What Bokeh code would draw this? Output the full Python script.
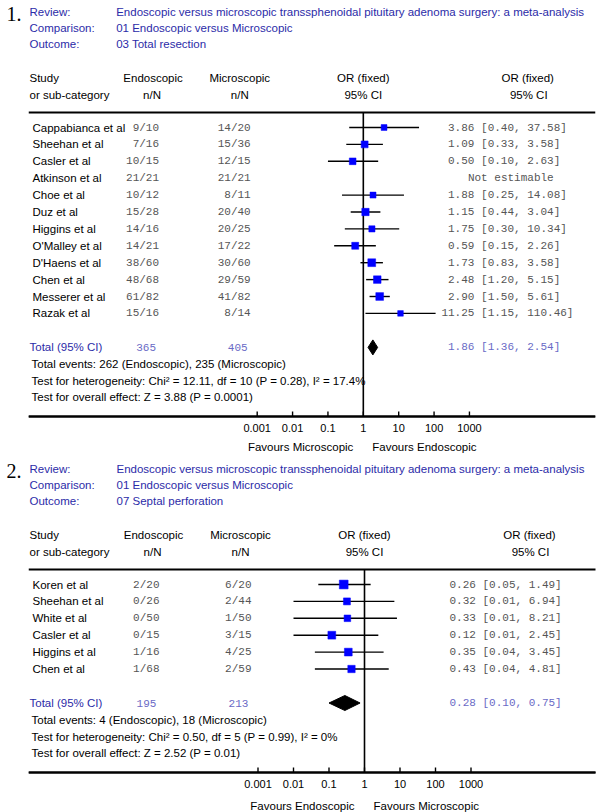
import math
from bokeh.plotting import figure
from bokeh.models import Range1d, LinearScale, ColumnDataSource
from bokeh.layouts import column
from bokeh.core.properties import value
from bokeh.embed import file_html
from bokeh.resources import INLINE

# ---------------- data ----------------
review = "Endoscopic versus microscopic transsphenoidal pituitary adenoma surgery: a meta-analysis"
comparison = "01 Endoscopic versus Microscopic"
outcome1 = "03 Total resection"
outcome2 = "07 Septal perforation"

studies1 = ["Cappabianca et al", "Sheehan et al", "Casler et al", "Atkinson et al", "Choe et al",
            "Duz  et al", "Higgins et al", "O'Malley et al", "D'Haens et al", "Chen et al",
            "Messerer et al", "Razak et al"]
endo_ev1 = [9, 7, 10, 21, 10, 15, 14, 14, 38, 48, 61, 15]
endo_n1 = [10, 16, 15, 21, 12, 28, 16, 21, 60, 68, 82, 16]
micro_ev1 = [14, 15, 12, 21, 8, 20, 20, 17, 30, 29, 41, 8]
micro_n1 = [20, 36, 15, 21, 11, 40, 25, 22, 60, 59, 82, 14]
or1 = [3.86, 1.09, 0.50, None, 1.88, 1.15, 1.75, 0.59, 1.73, 2.48, 2.90, 11.25]
lo1 = [0.40, 0.33, 0.10, None, 0.25, 0.44, 0.30, 0.15, 0.83, 1.20, 1.50, 1.15]
hi1 = [37.58, 3.58, 2.63, None, 14.08, 3.04, 10.34, 2.26, 3.58, 5.15, 5.61, 110.46]
weight1 = [1.6, 8.9, 6.8, 0, 2.4, 13.0, 3.3, 9.4, 18.8, 15.6, 17.9, 0.9]
total_n1 = [365, 405]
total_or1 = [1.86, 1.36, 2.54]
stats1 = ["Total events: 262 (Endoscopic), 235 (Microscopic)",
          "Test for heterogeneity: Chi\u00b2 = 12.11, df = 10 (P = 0.28), I\u00b2 = 17.4%",
          "Test for overall effect: Z = 3.88 (P = 0.0001)"]
favours1 = ["Favours Microscopic", "Favours Endoscopic"]

studies2 = ["Koren et al", "Sheehan et al", "White et al", "Casler et al", "Higgins et al", "Chen et al"]
endo_ev2 = [2, 0, 0, 0, 1, 1]
endo_n2 = [20, 26, 50, 15, 16, 68]
micro_ev2 = [6, 2, 1, 3, 4, 2]
micro_n2 = [20, 44, 50, 15, 25, 59]
or2 = [0.26, 0.32, 0.33, 0.12, 0.35, 0.43]
lo2 = [0.05, 0.01, 0.01, 0.01, 0.04, 0.04]
hi2 = [1.49, 6.94, 8.21, 2.45, 3.45, 4.81]
weight2 = [33.9, 9.3, 6.3, 18.8, 18.4, 13.3]
total_n2 = [195, 213]
total_or2 = [0.28, 0.10, 0.75]
stats2 = ["Total events: 4 (Endoscopic), 18 (Microscopic)",
          "Test for heterogeneity: Chi\u00b2 = 0.50, df = 5 (P = 0.99), I\u00b2 = 0%",
          "Test for overall effect: Z = 2.52 (P = 0.01)"]
favours2 = ["Favours Endoscopic", "Favours Microscopic"]

tick_vals = [0.001, 0.01, 0.1, 1, 10, 100, 1000]
tick_labels = ["0.001", "0.01", "0.1", "1", "10", "100", "1000"]

# ---------------- style ----------------
SANS = "Liberation Sans"
MONO = "Liberation Mono"
SERIF = "Liberation Serif"
BLUE = "#2b2ba8"
LBLUE = "#6a6ac6"
GREY = "#555555"
FS = "11.5px"
MS = "11px"
PPD = 35.5  # pixels per decade
W = 600


def txt(p, xs, ys, texts, align="left", color="#000000", font=SANS, size=FS, xoff=None,
        px=True):
    data = dict(x=list(xs), y=list(ys), t=list(texts))
    kw = {}
    if xoff is not None:
        data["xo"] = list(xoff)
        kw["x_offset"] = "xo"
    if px:
        kw["x_range_name"] = "px"
    r = p.text(x="x", y="y", text="t", source=ColumnDataSource(data),
               text_align=align, text_baseline="middle", text_color=color,
               text_font=value(font), text_font_size=size, **kw)
    r.level = "overlay"
    return r


def build_panel(num, outcome, studies, eev, en, mev, mn, est, lo, hi, wts,
                tot_n, tot_or, stats, fav, height, y0, dx, fav_off):
    n = len(studies)
    rows_y = [y0 + 119 + i * 16.9 for i in range(n)]
    y_tot = rows_y[-1] + 34
    y_axis = float(round(y_tot + 69))
    one_x = 362 + dx
    L, R = 26, 595          # frame edges in picture pixels (panel-1 reference)
    p = figure(width=W, height=height, x_axis_type="log",
               x_range=Range1d(10 ** ((L + dx - one_x) / PPD), 10 ** ((R - one_x) / PPD)),
               y_range=Range1d(height, 0), toolbar_location=None, output_backend="svg",
               min_border_left=L + dx, min_border_right=W - R, min_border_top=0,
               min_border_bottom=0, x_axis_location=None, y_axis_location=None,
               outline_line_color=None, background_fill_color="white",
               border_fill_color="white")
    p.extra_x_ranges = {"px": Range1d(L, R - dx)}
    p.extra_x_scales = {"px": LinearScale()}
    p.xgrid.visible = False
    p.ygrid.visible = False

    # header block
    txt(p, [4], [y0 + 5], [num], font=SERIF, size="20px")
    hy = [y0 + 3, y0 + 19, y0 + 35]
    txt(p, [27] * 3, hy, ["Review:", "Comparison:", "Outcome:"], color=BLUE)
    txt(p, [114] * 3, hy, [review, comparison, outcome], color=BLUE)

    # column headers
    h1, h2 = y0 + 69, y0 + 86
    txt(p, [27, 27], [h1, h2], ["Study", "or sub-category"])
    txt(p, [151, 150, 238, 238, 362, 362, 527, 528], [h1, h2] * 4,
        ["Endoscopic", "n/N", "Microscopic", "n/N", "OR (fixed)", "95% CI", "OR (fixed)", "95% CI"],
        align="center")
    # header rule and OR-axis rule
    p.segment(x0=[L, L], x1=[R, R], y0=[y0 + 104, y_axis], y1=[y0 + 104, y_axis],
              x_range_name="px", line_color="black", line_width=2)
    p.quad(left=[L], right=[R], top=[y_axis - 1.0], bottom=[y_axis + 1.0], x_range_name="px",
           fill_color="black", line_color=None)

    # null line
    p.segment(x0=[1], x1=[1], y0=[y0 + 104], y1=[y_axis], line_color="black", line_width=1.6)
    # axis ticks at the log-scale positions
    p.segment(x0=tick_vals, x1=tick_vals, y0=[y_axis - 5.0] * len(tick_vals),
              y1=[y_axis] * len(tick_vals), line_color="black", line_width=1.4)

    # study rows
    txt(p, [30] * n, rows_y, studies)
    txt(p, [157] * n, rows_y, [f"{a}/{b}" for a, b in zip(eev, en)], align="right",
        color=GREY, font=MONO, size=MS)
    txt(p, [249] * n, rows_y, [f"{a}/{b}" for a, b in zip(mev, mn)], align="right",
        color=GREY, font=MONO, size=MS)

    ok = [i for i in range(n) if est[i] is not None]
    src = ColumnDataSource(dict(
        y=[rows_y[i] for i in ok], est=[est[i] for i in ok], lo=[lo[i] for i in ok],
        hi=[hi[i] for i in ok], size=[5 + 0.65 * math.sqrt(wts[i]) for i in ok]))
    p.segment(x0="lo", x1="hi", y0="y", y1="y", source=src, line_color="black", line_width=1.4)
    p.scatter(x="est", y="y", size="size", marker="square", source=src,
              fill_color="#0000ff", line_color="#0000ff", line_width=0.5)
    ci_txt = [f"{est[i]:.2f} [{lo[i]:.2f}, {hi[i]:.2f}]" for i in ok]
    xoff = [-(len(f"{est[i]:.2f}") - 4) * 6.6 for i in ok]
    txt(p, [447] * len(ok), [rows_y[i] for i in ok], ci_txt, color=GREY, font=MONO,
        size=MS, xoff=xoff)
    ne = [i for i in range(n) if est[i] is None]
    if ne:
        txt(p, [510] * len(ne), [rows_y[i] for i in ne], ["Not estimable"] * len(ne),
            align="center", color=GREY, font=MONO, size=MS)

    # total row
    txt(p, [27], [y_tot], ["Total (95% CI)"], color=BLUE)
    txt(p, [144, 236], [y_tot, y_tot], [str(tot_n[0]), str(tot_n[1])], align="center",
        color=LBLUE, font=MONO, size=MS)
    te, tl, th = tot_or
    p.patch(x=[tl, te, th, te], y=[y_tot, y_tot - 7.5, y_tot, y_tot + 7.5],
            fill_color="black", line_color="black")
    txt(p, [447], [y_tot], [f"{te:.2f} [{tl:.2f}, {th:.2f}]"], color=LBLUE, font=MONO, size=MS)

    # statistics
    txt(p, [29] * 3, [y_tot + 17, y_tot + 34, y_tot + 50], stats)

    # tick labels on the log scale
    txt(p, tick_vals, [y_axis + 11] * len(tick_vals), tick_labels, align="center",
        size="11px", px=False)

    # favours labels below axis
    yf = y_axis + fav_off
    txt(p, [352], [yf], [fav[0]], align="right")
    txt(p, [371], [yf], [fav[1]], align="left")
    return p


p1 = build_panel("1.", outcome1, studies1, endo_ev1, endo_n1, micro_ev1, micro_n1,
                 or1, lo1, hi1, weight1, total_n1, total_or1, stats1, favours1,
                 height=456, y0=8, dx=0, fav_off=30)
p2 = build_panel("2.", outcome2, studies2, endo_ev2, endo_n2, micro_ev2, micro_n2,
                 or2, lo2, hi2, weight2, total_n2, total_or2, stats2, favours2,
                 height=356, y0=9, dx=2, fav_off=33)

layout = column(p1, p2, spacing=0)
open("out.html", "w").write(file_html(layout, INLINE))
